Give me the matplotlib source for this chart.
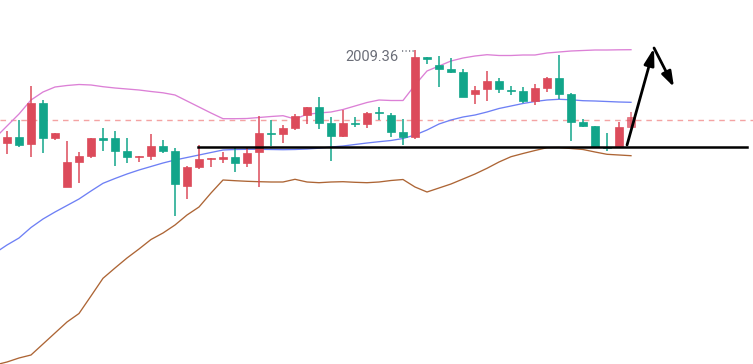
import matplotlib
matplotlib.use("Agg")
import matplotlib.pyplot as plt
from matplotlib.patches import Rectangle
import numpy as np

# ---- Data (prices) ----
opens = [1990.70, 1991.90, 1990.50, 1998.70, 1991.70, 1981.90, 1986.96, 1988.22, 1991.70, 1991.70,
         1989.22, 1987.90, 1988.22, 1990.16, 1989.16, 1982.16, 1986.02, 1987.50, 1987.62, 1987.90,
         1986.76, 1989.02, 1992.76, 1992.50, 1993.70, 1996.30, 1997.90, 1994.70, 1992.22, 1994.76,
         1994.50, 1996.86, 1996.36, 1992.90, 1992.02, 2007.90, 2006.36, 2005.50, 2005.02, 2000.50,
         2001.50, 2003.16, 2001.32, 2001.16, 1999.22, 2001.70, 2003.70, 2000.50, 1994.90, 1994.22,
         1989.96, 1990.16, 1993.90]
highs = [1993.16, 1995.36, 2002.16, 1999.36, 1992.70, 1991.16, 1988.96, 1991.70, 1993.70, 1993.16,
         1991.70, 1988.16, 1992.50, 1991.36, 1989.70, 1986.16, 1990.36, 1987.70, 1989.02, 1989.70,
         1989.70, 1996.16, 1995.36, 1994.36, 1996.50, 1997.90, 1999.90, 1995.90, 1997.36, 1995.90,
         1997.02, 1997.96, 1996.70, 1995.56, 2009.36, 2007.90, 2008.16, 2007.70, 2005.50, 2002.16,
         2005.16, 2003.70, 2002.22, 2002.02, 2002.50, 2004.02, 2008.36, 2000.70, 1995.56, 1994.22,
         1992.70, 1995.02, 1997.02]
lows = [1988.56, 1990.02, 1988.02, 1988.82, 1991.36, 1981.90, 1982.70, 1987.70, 1989.22, 1986.16,
        1986.82, 1987.02, 1987.36, 1988.70, 1976.16, 1979.50, 1985.50, 1985.90, 1986.70, 1985.02,
        1986.02, 1982.02, 1990.16, 1990.70, 1993.36, 1994.50, 1993.50, 1987.22, 1992.02, 1994.02,
        1993.70, 1995.36, 1992.02, 1990.36, 1991.50, 2006.56, 2002.02, 2004.70, 1999.90, 1998.50,
        1999.22, 2000.70, 2000.36, 1998.82, 1998.30, 2001.02, 1999.50, 1991.22, 1993.90, 1989.76,
        1989.22, 1990.16, 1993.90]
closes = [1991.90, 1990.42, 1998.70, 1991.70, 1992.70, 1986.96, 1988.16, 1991.70, 1991.46, 1989.22,
          1988.02, 1988.10, 1990.16, 1989.16, 1982.50, 1985.90, 1987.62, 1987.70, 1987.90, 1986.76,
          1988.70, 1992.70, 1992.56, 1993.70, 1996.16, 1997.90, 1994.70, 1992.22, 1994.70, 1994.56,
          1996.70, 1996.66, 1993.02, 1992.02, 2007.90, 2007.50, 2005.50, 2004.96, 2000.02, 2001.36,
          2003.16, 2001.50, 2001.12, 1999.16, 2001.70, 2003.70, 2000.56, 1995.02, 1994.22, 1989.96,
          1989.66, 1993.90, 1995.90]

# Bollinger bands (first value belongs to the bar just before the visible window)
boll_upper = [1991.76, 1994.16, 1996.56, 1999.36, 2000.96, 2001.96, 2002.26, 2002.46, 2002.36, 2002.02,
              2001.76, 2001.56, 2001.36, 2001.06, 2000.80, 2000.36, 1999.16, 1997.96, 1996.76, 1995.62,
              1995.62, 1995.66, 1995.86, 1996.06, 1996.22, 1995.56, 1996.50, 1996.76, 1996.96, 1997.46,
              1998.16, 1998.86, 1999.36, 1999.26, 1999.26, 2002.36, 2005.16, 2006.16, 2007.16, 2007.76,
              2008.16, 2008.42, 2008.26, 2008.26, 2008.36, 2008.36, 2008.76, 2008.96, 2009.16, 2009.26,
              2009.36, 2009.36, 2009.40, 2009.42]
boll_mid = [1968.76, 1970.36, 1971.76, 1973.86, 1975.56, 1976.96, 1978.26, 1979.56, 1981.16, 1982.70,
            1983.66, 1984.56, 1985.36, 1986.06, 1986.76, 1987.36, 1987.86, 1988.36, 1988.86, 1989.36,
            1989.46, 1989.50, 1989.50, 1989.46, 1989.42, 1989.46, 1989.56, 1989.72, 1989.96, 1990.16,
            1990.46, 1990.76, 1991.02, 1991.26, 1991.66, 1992.36, 1993.36, 1994.56, 1995.36, 1995.96,
            1996.36, 1996.96, 1997.66, 1998.16, 1998.66, 1999.06, 1999.36, 1999.50, 1999.40, 1999.22,
            1999.16, 1999.06, 1998.96, 1998.90]
boll_lower = [1946.36, 1946.96, 1947.76, 1948.36, 1950.56, 1952.76, 1954.96, 1956.66, 1960.16, 1963.70,
              1965.76, 1967.76, 1969.56, 1971.46, 1972.76, 1974.36, 1976.36, 1977.96, 1980.76, 1983.36,
              1983.22, 1983.10, 1983.02, 1982.96, 1982.96, 1983.50, 1982.96, 1982.82, 1982.96, 1983.02,
              1982.90, 1982.82, 1982.96, 1983.26, 1983.46, 1981.96, 1980.96, 1981.76, 1982.56, 1983.56,
              1984.56, 1985.70, 1986.96, 1988.02, 1988.66, 1989.26, 1989.82, 1989.86, 1989.66, 1989.46,
              1988.96, 1988.50, 1988.36, 1988.22]

support_level = 1989.96
support_start = 15.9
dashed_level = 1995.36
high_label = "2009.36"
high_index = 34
arrow_x = [51.67, 53.92, 55.58]
arrow_y = [1990.36, 2009.76, 2001.96]

# ---- Style ----
UP = "#dc4b5b"
DOWN = "#12a58a"
W = 0.7

fig = plt.figure(figsize=(7.53, 3.64), dpi=100)
ax = fig.add_axes([0, 0, 1, 1])
ax.set_axis_off()
ax.set_xlim(-0.5833, 62.1667)
ax.set_ylim(1946.56, 2019.36)

n = len(opens)
xs = np.arange(n)
bx = np.arange(-1, n)

ax.plot(bx, boll_upper, color="#dc80d6", lw=0.95, zorder=2)
ax.plot(bx, boll_mid, color="#6e80f5", lw=0.95, zorder=2)
ax.plot(bx, boll_lower, color="#ad6535", lw=0.95, zorder=2)

ax.axhline(dashed_level, color="#f4a3a3", lw=1.0, ls=(0, (4, 3.5)), zorder=1)

for i in range(n):
    o, h, l, c = opens[i], highs[i], lows[i], closes[i]
    col = UP if c >= o else DOWN
    alpha = 0.75 if i == n - 1 else 1.0
    ax.plot([xs[i], xs[i]], [l, h], color=col, lw=1.1, zorder=3, alpha=alpha, solid_capstyle="butt")
    bot = min(o, c)
    hgt = max(abs(c - o), 0.2)
    ax.add_patch(Rectangle((xs[i] - W / 2, bot), W, hgt, facecolor=col, edgecolor=col,
                           lw=0.5, zorder=4, alpha=alpha))

ax.plot([support_start, 61.67], [support_level, support_level], color="black", lw=1.8, zorder=5)

# high label
ax.text(28.17, 2007.16, high_label, color="#6b6e78", fontsize=10.5, family="Roboto",
        va="baseline", ha="left", zorder=6)
ax.plot([32.9, 33.9], [2009.2, 2009.2], color="#8a8d96", lw=1.4, ls=(0, (0.6, 1.2)), zorder=6)

# arrows
ax.annotate("", xy=(arrow_x[1], arrow_y[1]), xytext=(arrow_x[0], arrow_y[0]),
            arrowprops=dict(arrowstyle="-|>,head_length=1.0,head_width=0.3", color="black", lw=2.0,
                            shrinkA=0, shrinkB=0), zorder=7)
ax.annotate("", xy=(arrow_x[2], arrow_y[2]), xytext=(arrow_x[1], arrow_y[1]),
            arrowprops=dict(arrowstyle="-|>,head_length=0.9,head_width=0.3", color="black", lw=2.0,
                            shrinkA=0, shrinkB=0), zorder=7)

fig.savefig("out.png", dpi=100)
